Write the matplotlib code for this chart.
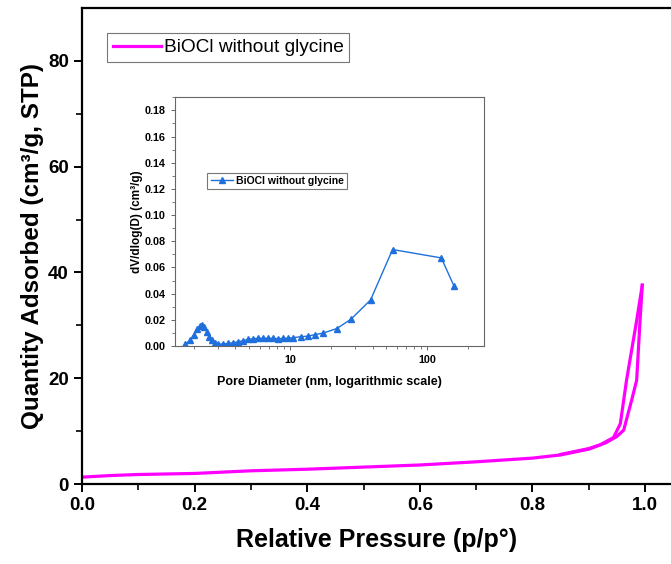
import matplotlib.pyplot as plt
from matplotlib.ticker import MultipleLocator, LogLocator, NullFormatter, FixedLocator

plt.rcParams["font.family"] = ["Liberation Sans", "DejaVu Sans"]

# N2 isotherm, adsorption branch
ads_p = [0.0, 0.05, 0.1, 0.2, 0.3, 0.4, 0.5, 0.6, 0.7, 0.8, 0.85, 0.9,
         0.93, 0.95, 0.962, 0.976, 0.985, 0.991, 0.995]
ads_q = [1.3, 1.6, 1.8, 2.0, 2.5, 2.8, 3.2, 3.6, 4.2, 4.9, 5.5, 6.6,
         7.8, 9.0, 10.2, 15.8, 19.6, 30.9, 37.6]

# desorption branch (from high to low pressure)
des_p = [0.995, 0.985, 0.967, 0.956, 0.944, 0.92, 0.9, 0.85]
des_q = [37.6, 30.9, 19.6, 11.4, 8.8, 7.4, 6.7, 5.6]

# BJH pore size distribution
pore_d = [1.72, 1.87, 1.98, 2.09, 2.19, 2.27, 2.37, 2.47, 2.57, 2.69, 2.84,
          3.01, 3.27, 3.56, 3.87, 4.21, 4.57, 4.97, 5.41, 5.88, 6.40, 6.95,
          7.56, 8.22, 8.94, 9.72, 10.6, 12.0, 13.6, 15.2, 17.5, 21.9, 27.8,
          38.7, 56.0, 127.0, 157.0]
pore_v = [0.0013, 0.0046, 0.0084, 0.0127, 0.0153, 0.0161, 0.0143, 0.0110,
          0.0071, 0.0046, 0.0025, 0.0015, 0.0015, 0.0020, 0.0025, 0.0033,
          0.0041, 0.0051, 0.0056, 0.0059, 0.0059, 0.0059, 0.0059, 0.0056,
          0.0059, 0.0059, 0.0064, 0.0071, 0.0076, 0.0087, 0.0099, 0.0133,
          0.0204, 0.0352, 0.0737, 0.0673, 0.0459]

label = "BiOCl without glycine"
magenta = "#ff00ff"
blue = "#1f6fdc"

fig = plt.figure(figsize=(6.71, 5.64), dpi=100)

# main isotherm
ax = fig.add_axes([0.1222, 0.1418, 1 - 0.1222, 0.844])
ax.plot(ads_p, ads_q, color=magenta, lw=2.3, label=label, solid_joinstyle="round")
ax.plot(des_p, des_q, color=magenta, lw=2.3, solid_joinstyle="round")
ax.set_xlim(0, 1.046)
ax.set_ylim(0, 90)
ax.xaxis.set_major_locator(FixedLocator([0, 0.2, 0.4, 0.6, 0.8, 1.0]))
ax.xaxis.set_minor_locator(FixedLocator([0.1, 0.3, 0.5, 0.7, 0.9]))
ax.yaxis.set_major_locator(FixedLocator([0, 20, 40, 60, 80]))
ax.yaxis.set_minor_locator(FixedLocator([10, 30, 50, 70]))
ax.xaxis.set_major_formatter(plt.FuncFormatter(lambda v, _: f"{v:.1f}"))
ax.yaxis.set_major_formatter(plt.FuncFormatter(lambda v, _: f"{v:.0f}"))
ax.spines["right"].set_visible(False)
for s in ("left", "bottom", "top"):
    ax.spines[s].set_linewidth(1.6)
ax.tick_params(which="major", direction="out", length=6, width=1.4, labelsize=13.5)
ax.tick_params(which="minor", direction="out", length=4, width=1.2)
for t in ax.get_xticklabels() + ax.get_yticklabels():
    t.set_fontweight("bold")
ax.set_xlabel("Relative Pressure (p/p°)", fontsize=18, fontweight="bold", labelpad=10)
ax.set_ylabel("Quantity Adsorbed (cm³/g, STP)", fontsize=17.5, fontweight="bold",
              labelpad=3)
leg = ax.legend(loc="upper left", bbox_to_anchor=(0.0425, 0.947), fontsize=13.8,
                frameon=True, fancybox=False, handlelength=2.5,
                borderpad=0.3, handletextpad=0.15, borderaxespad=0)
leg.get_frame().set_edgecolor("#555555")
leg.get_frame().set_linewidth(0.8)

# inset: pore size distribution
ins = fig.add_axes([0.2608, 0.3865, 0.4605, 0.441])
ins.plot(pore_d, pore_v, color=blue, lw=1.0, marker="^", ms=5, label=label)
ins.set_xscale("log")
ins.set_xlim(1.45, 260)
ins.set_ylim(0, 0.19)
ins.xaxis.set_major_locator(LogLocator(base=10))
ins.xaxis.set_minor_locator(LogLocator(base=10, subs=range(2, 10)))
ins.xaxis.set_minor_formatter(NullFormatter())
ins.xaxis.set_major_formatter(plt.FuncFormatter(lambda v, _: f"{v:.0f}"))
ins.yaxis.set_major_locator(MultipleLocator(0.02))
ins.yaxis.set_minor_locator(MultipleLocator(0.01))
ins.yaxis.set_major_formatter(plt.FuncFormatter(lambda v, _: f"{v:.2f}"))
for s in ins.spines.values():
    s.set_color("#666666")
    s.set_linewidth(0.8)
ins.tick_params(which="major", direction="out", length=3, width=0.7, labelsize=7.8,
                color="#666666")
ins.tick_params(which="minor", direction="out", length=2, width=0.6, color="#666666")
for t in ins.get_xticklabels() + ins.get_yticklabels():
    t.set_fontweight("bold")
ins.set_xlabel("Pore Diameter (nm, logarithmic scale)", fontsize=9, fontweight="bold",
               labelpad=8)
ins.set_ylabel("dV/dlog(D) (cm³/g)", fontsize=8.5, fontweight="bold", labelpad=1)
leg2 = ins.legend(loc="upper left", bbox_to_anchor=(0.105, 0.696), fontsize=7.5,
                  frameon=True, fancybox=False, handlelength=2.2, borderaxespad=0,
                  borderpad=0.3, handletextpad=0.2, prop={"weight": "bold", "size": 7.5})
leg2.get_frame().set_edgecolor("#555555")
leg2.get_frame().set_linewidth(0.8)

fig.savefig("out.png", dpi=100)
